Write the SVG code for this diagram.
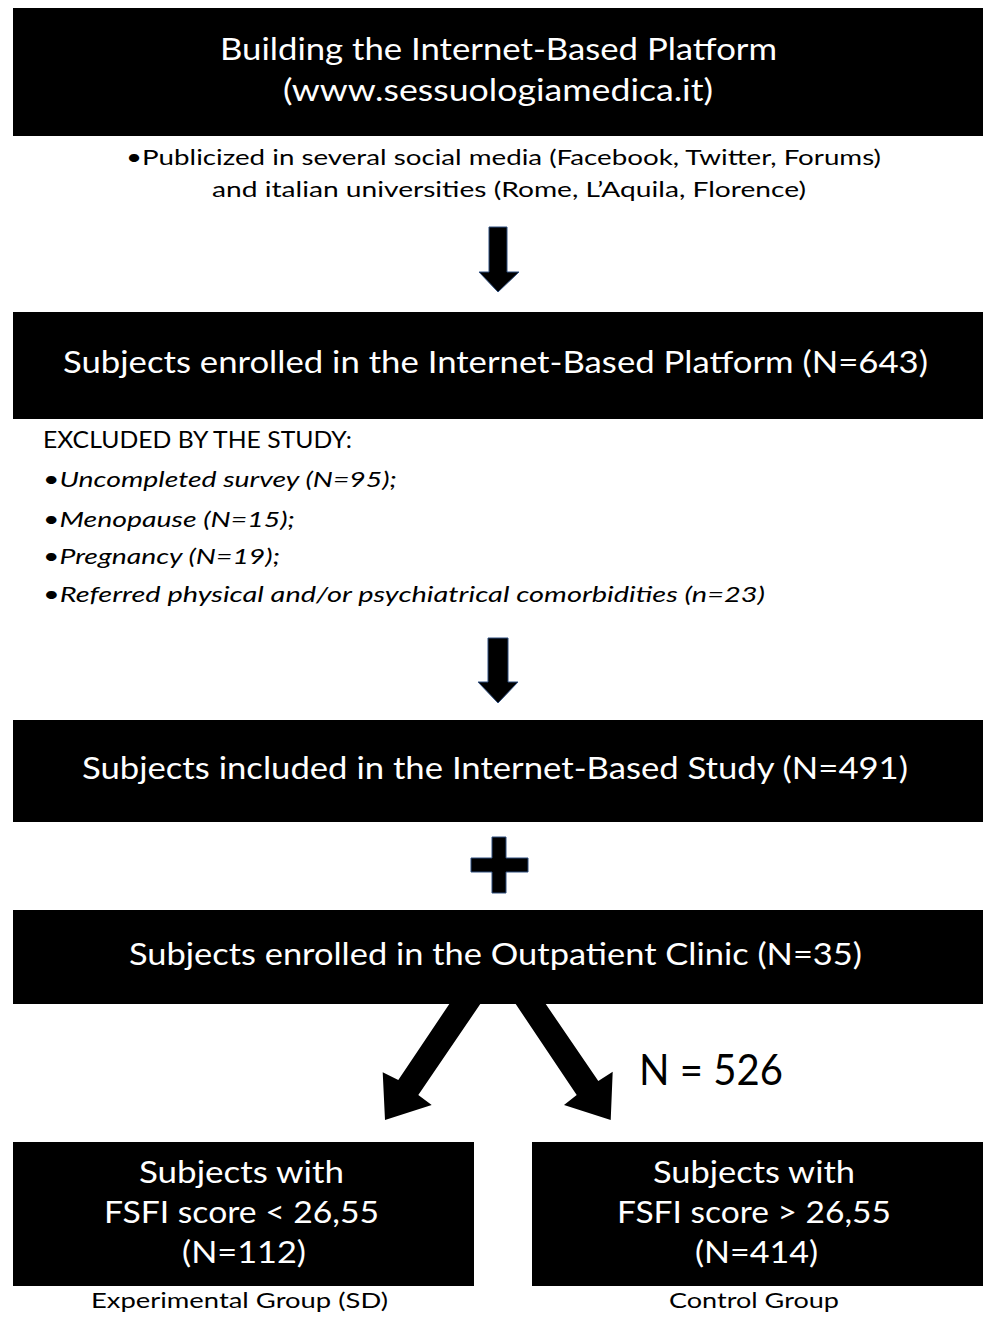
<svg xmlns="http://www.w3.org/2000/svg" width="985" height="1319" viewBox="0 0 985 1319">
<style>
  .box { fill: #000000; }
  .wt { fill: #ffffff; font-family: "Lato", "Liberation Sans", sans-serif; font-size: 30px; }
  .bt { fill: #000000; font-family: "Lato", "Liberation Sans", sans-serif; }
  .it { font-style: italic; }
  .arr { fill: #000000; stroke: #2F4F7F; stroke-width: 1; }
  .darr { fill: #000000; }
</style>
<rect width="985" height="1319" fill="#ffffff"/>

<g id="connectors">
  <polygon class="arr" points="489,227 507,227 507,272 519,272 498,292 479,272 489,272"/>
  <polygon class="arr" points="488,638 508,638 508,682 518,682 498,703 478,682 488,682"/>
  <polygon class="arr" points="492,837 506,837 506,858 528,858 528,872 506,872 506,893 492,893 492,872 471,872 471,858 492,858"/>
  <polygon class="darr" points="452,1000 483,1000 418.3,1095 431.7,1105 385,1120 382.7,1072.3 398.3,1080"/>
  <polygon class="darr" points="513,1000 543,1000 598.3,1081 612.7,1071.7 610.7,1120 564,1105 576.7,1095"/>
</g>

<g id="node-platform">
  <rect class="box" x="13" y="8" width="970" height="128"/>
  <text class="wt" x="220" y="60" textLength="557" lengthAdjust="spacingAndGlyphs">Building the Internet-Based Platform</text>
  <text class="wt" x="283" y="101" textLength="430" lengthAdjust="spacingAndGlyphs">(www.sessuologiamedica.it)</text>
</g>

<g id="note-publicized">
  <text class="bt" x="126" y="165" font-size="20.5" textLength="755" lengthAdjust="spacingAndGlyphs">•Publicized in several social media (Facebook, Twitter, Forums)</text>
  <text class="bt" x="212" y="197" font-size="20.5" textLength="594" lengthAdjust="spacingAndGlyphs">and italian universities (Rome, L’Aquila, Florence)</text>
</g>

<g id="node-enrolled-platform">
  <rect class="box" x="13" y="312" width="970" height="107"/>
  <text class="wt" x="63" y="373" textLength="865" lengthAdjust="spacingAndGlyphs">Subjects enrolled in the Internet-Based Platform (N=643)</text>
</g>

<g id="note-excluded">
  <text class="bt" x="43" y="448" font-size="23" textLength="309" lengthAdjust="spacingAndGlyphs">EXCLUDED BY THE STUDY:</text>
  <text class="bt" x="43" y="487" font-size="22" textLength="354" lengthAdjust="spacingAndGlyphs">•<tspan class="it">Uncompleted survey (N=95);</tspan></text>
  <text class="bt" x="43" y="527" font-size="22" textLength="252" lengthAdjust="spacingAndGlyphs">•<tspan class="it">Menopause (N=15);</tspan></text>
  <text class="bt" x="43" y="564" font-size="22" textLength="237" lengthAdjust="spacingAndGlyphs">•<tspan class="it">Pregnancy (N=19);</tspan></text>
  <text class="bt" x="43" y="602" font-size="22" textLength="722" lengthAdjust="spacingAndGlyphs">•<tspan class="it">Referred physical and/or psychiatrical comorbidities (n=23)</tspan></text>
</g>

<g id="node-included">
  <rect class="box" x="13" y="720" width="970" height="102"/>
  <text class="wt" x="82" y="779" textLength="826" lengthAdjust="spacingAndGlyphs">Subjects included in the Internet-Based Study (N=491)</text>
</g>

<g id="node-outpatient">
  <rect class="box" x="13" y="910" width="970" height="94"/>
  <text class="wt" x="129" y="965" textLength="733" lengthAdjust="spacingAndGlyphs">Subjects enrolled in the Outpatient Clinic (N=35)</text>
</g>

<g id="label-total">
  <text class="bt" x="639" y="1085" font-size="42" textLength="144" lengthAdjust="spacingAndGlyphs">N = 526</text>
</g>

<g id="node-experimental">
  <rect class="box" x="13" y="1142" width="461" height="144"/>
  <text class="wt" x="139" y="1183" textLength="205" lengthAdjust="spacingAndGlyphs">Subjects with</text>
  <text class="wt" x="104" y="1223" textLength="275" lengthAdjust="spacingAndGlyphs">FSFI score &lt; 26,55</text>
  <text class="wt" x="182" y="1263" textLength="124" lengthAdjust="spacingAndGlyphs">(N=112)</text>
  <text class="bt" x="91" y="1308" font-size="20.5" textLength="297" lengthAdjust="spacingAndGlyphs">Experimental Group (SD)</text>
</g>

<g id="node-control">
  <rect class="box" x="532" y="1142" width="451" height="144"/>
  <text class="wt" x="653" y="1183" textLength="202" lengthAdjust="spacingAndGlyphs">Subjects with</text>
  <text class="wt" x="617" y="1223" textLength="274" lengthAdjust="spacingAndGlyphs">FSFI score &gt; 26,55</text>
  <text class="wt" x="695" y="1263" textLength="123" lengthAdjust="spacingAndGlyphs">(N=414)</text>
  <text class="bt" x="669" y="1308" font-size="20.5" textLength="170" lengthAdjust="spacingAndGlyphs">Control Group</text>
</g>
</svg>
